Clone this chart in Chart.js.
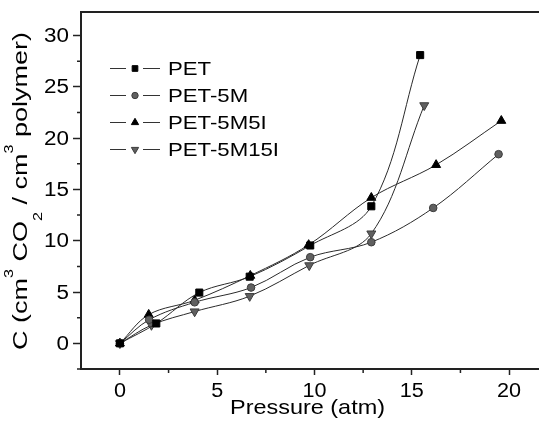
<!DOCTYPE html>
<html>
<head>
<meta charset="utf-8">
<script src="https://cdn.jsdelivr.net/npm/chart.js@4/dist/chart.umd.min.js"></script>
<style>
  html, body { margin: 0; padding: 0; background: #fff; overflow: hidden; }
  #wrap { width: 539px; height: 426px; overflow: hidden; }
  canvas { display: block; }
</style>
</head>
<body>
<div id="wrap"><canvas id="chart" width="560" height="426"></canvas></div>
<script>
// ================= DATA =================
const seriesNames = ["PET", "PET-5M", "PET-5M5I", "PET-5M15I"];

const petP = [0, 1.87, 4.08, 6.67, 9.78, 12.92, 15.43];
const petC = [0, 1.94, 4.95, 6.5, 9.54, 13.36, 28.1];

const pet5mP = [0, 1.5, 3.84, 6.74, 9.78, 12.92, 16.1, 19.46];
const pet5mC = [0, 2.3, 4.0, 5.44, 8.4, 9.86, 13.2, 18.44];

const pet5m5iP = [0, 1.48, 3.84, 6.7, 9.7, 12.92, 16.25, 19.6];
const pet5m5iC = [0, 2.8, 4.2, 6.6, 9.6, 14.2, 17.4, 21.7];

const pet5m15iP = [0, 1.62, 3.84, 6.67, 9.73, 12.92, 15.64];
const pet5m15iC = [0, 1.78, 3.1, 4.6, 7.6, 10.7, 23.2];

const xTickLabels = ["0", "5", "10", "15", "20"];
const yTickLabels = ["0", "5", "10", "15", "20", "25", "30"];

// ================= STYLE =================
const FONT = '"Liberation Sans", Arial, sans-serif';
const INK = "#000";
const GRAY = "#606060";
const GRAY_EDGE = "#3c3c3c";

const markers = [
  { style: "rect", rot: 0, r: 5, fill: "#000", edge: "#000" },
  { style: "circle", rot: 0, r: 3.8, fill: GRAY, edge: GRAY_EDGE },
  { style: "triangle", rot: 0, r: 5.2, fill: "#000", edge: "#000" },
  { style: "triangle", rot: 180, r: 5.2, fill: GRAY, edge: GRAY_EDGE }
];

function toPoints(xs, ys) {
  return xs.map((x, i) => ({ x, y: ys[i] }));
}

const allData = [
  toPoints(petP, petC),
  toPoints(pet5mP, pet5mC),
  toPoints(pet5m5iP, pet5m5iC),
  toPoints(pet5m15iP, pet5m15iC)
];

// ================= HELPERS =================
function stretchText(ctx, txt, x, y, sx, align) {
  ctx.save();
  ctx.translate(x, y);
  ctx.scale(sx, 1);
  ctx.textAlign = align;
  ctx.fillText(txt, 0, 0);
  ctx.restore();
}

function drawMarker(ctx, m, x, y, r) {
  ctx.save();
  ctx.fillStyle = m.fill;
  ctx.strokeStyle = m.edge;
  ctx.lineWidth = 1;
  ctx.beginPath();
  if (m.style === "rect") {
    const s = r * Math.SQRT1_2;
    ctx.rect(x - s, y - s, 2 * s, 2 * s);
  } else if (m.style === "circle") {
    ctx.arc(x, y, r, 0, Math.PI * 2);
  } else {
    const dir = m.rot === 180 ? -1 : 1;
    const h = r * 1.5;
    ctx.moveTo(x, y - dir * r);
    ctx.lineTo(x - r * 0.866, y - dir * (r - h));
    ctx.lineTo(x + r * 0.866, y - dir * (r - h));
    ctx.closePath();
  }
  ctx.fill();
  ctx.stroke();
  ctx.restore();
}

// ================= PLUGIN: frame, ticks, titles, legend =================
const decorPlugin = {
  id: "decor",
  afterDraw(chart) {
    const { ctx, chartArea } = chart;
    const xs = chart.scales.x;
    const ys = chart.scales.y;

    ctx.save();
    // top / right frame
    ctx.strokeStyle = "#222";
    ctx.lineWidth = 2;
    ctx.beginPath();
    ctx.moveTo(chartArea.left - 1, chartArea.top);
    ctx.lineTo(chartArea.right, chartArea.top);
    ctx.lineTo(chartArea.right, chartArea.bottom);
    ctx.stroke();

    // minor ticks
    ctx.lineWidth = 1.5;
    ctx.beginPath();
    xs.ticks.forEach(t => {
      if (t.value % 5 === 0) return;
      const px = xs.getPixelForValue(t.value);
      ctx.moveTo(px, chartArea.bottom);
      ctx.lineTo(px, chartArea.bottom + 4);
    });
    ys.ticks.forEach(t => {
      if (t.value % 5 === 0) return;
      const py = ys.getPixelForValue(t.value);
      ctx.moveTo(chartArea.left, py);
      ctx.lineTo(chartArea.left - 4, py);
    });
    ctx.stroke();

    // tick labels
    ctx.fillStyle = INK;
    ctx.font = "20px " + FONT;
    ctx.textBaseline = "alphabetic";
    xTickLabels.forEach(l => {
      stretchText(ctx, l, xs.getPixelForValue(Number(l)), 397, 1.08, "center");
    });
    ctx.textBaseline = "middle";
    yTickLabels.forEach(l => {
      stretchText(ctx, l, 69, ys.getPixelForValue(Number(l)) + 1, 1.12, "right");
    });

    // x title
    ctx.textBaseline = "alphabetic";
    ctx.font = "21px " + FONT;
    const xt = "Pressure (atm)";
    const xw = ctx.measureText(xt).width;
    stretchText(ctx, xt, 307.5, 414, 155 / xw, "center");

    // y title with super/subscripts
    const parts = [
      ["C (cm", 0], ["3", -1], [" CO", 0], ["2", 1],
      [" / cm", 0], ["3", -1], [" polymer)", 0]
    ];
    const mainFont = "20px " + FONT;
    const smallFont = "12px " + FONT;
    let total = 0;
    parts.forEach(p => {
      ctx.font = p[1] === 0 ? mainFont : smallFont;
      total += ctx.measureText(p[0]).width;
    });
    const sy = 318 / total;
    ctx.save();
    ctx.translate(27, 191);
    ctx.rotate(-Math.PI / 2);
    ctx.scale(sy, 1);
    ctx.textAlign = "left";
    let cx = -total / 2;
    parts.forEach(p => {
      ctx.font = p[1] === 0 ? mainFont : smallFont;
      const off = p[1] === -1 ? -14 : (p[1] === 1 ? 15 : 0);
      ctx.fillText(p[0], cx, off);
      cx += ctx.measureText(p[0]).width;
    });
    ctx.restore();

    // legend
    const legendBase = [75, 102, 129, 156];
    ctx.font = "19px " + FONT;
    const lw = ctx.measureText("PET-5M15I").width;
    const lsx = 111 / lw;
    seriesNames.forEach((name, i) => {
      const yb = legendBase[i];
      const yc = yb - 6.5;
      ctx.strokeStyle = "#333";
      ctx.lineWidth = 1;
      ctx.beginPath();
      ctx.moveTo(110, yc); ctx.lineTo(126, yc);
      ctx.moveTo(143, yc); ctx.lineTo(160, yc);
      ctx.stroke();
      const m = markers[i];
      drawMarker(ctx, m, 135, yc, m.style === "rect" ? 4 : (m.style === "circle" ? 3.2 : 4.2));
      ctx.fillStyle = INK;
      ctx.textBaseline = "alphabetic";
      stretchText(ctx, name, 168, yb, lsx, "left");
    });
    ctx.restore();
  }
};

// ================= CHART =================
const datasets = allData.map((pts, i) => {
  const m = markers[i];
  return {
    label: seriesNames[i],
    data: pts,
    showLine: true,
    tension: 0.35,
    borderColor: "#2a2a2a",
    borderWidth: 1,
    pointStyle: m.style,
    rotation: m.rot,
    pointRadius: m.r,
    pointBackgroundColor: m.fill,
    pointBorderColor: m.edge,
    pointBorderWidth: 1
  };
});

const majorTick = c => (c.tick && c.tick.value % 5 === 0 ? "#222" : "rgba(0,0,0,0)");

new Chart(document.getElementById("chart"), {
  type: "scatter",
  data: { datasets },
  plugins: [decorPlugin],
  options: {
    responsive: false,
    animation: false,
    layout: { padding: { left: 0, top: 12, right: 12, bottom: 0 } },
    plugins: {
      legend: { display: false },
      tooltip: { enabled: false }
    },
    scales: {
      x: {
        type: "linear",
        min: -2,
        max: 22,
        afterFit: s => { s.height = 57; },
        border: { display: true, color: "#222", width: 2 },
        grid: { drawOnChartArea: false, drawTicks: true, tickLength: 6, tickWidth: 1.5, tickColor: majorTick },
        ticks: { display: false, stepSize: 2.5, includeBounds: false, autoSkip: false }
      },
      y: {
        type: "linear",
        min: -2.5,
        max: 32.3,
        afterFit: s => { s.width = 81; },
        border: { display: true, color: "#222", width: 2 },
        grid: { drawOnChartArea: false, drawTicks: true, tickLength: 8, tickWidth: 1.5, tickColor: majorTick },
        ticks: { display: false, stepSize: 2.5, includeBounds: false, autoSkip: false }
      }
    }
  }
});
</script>
</body>
</html>
